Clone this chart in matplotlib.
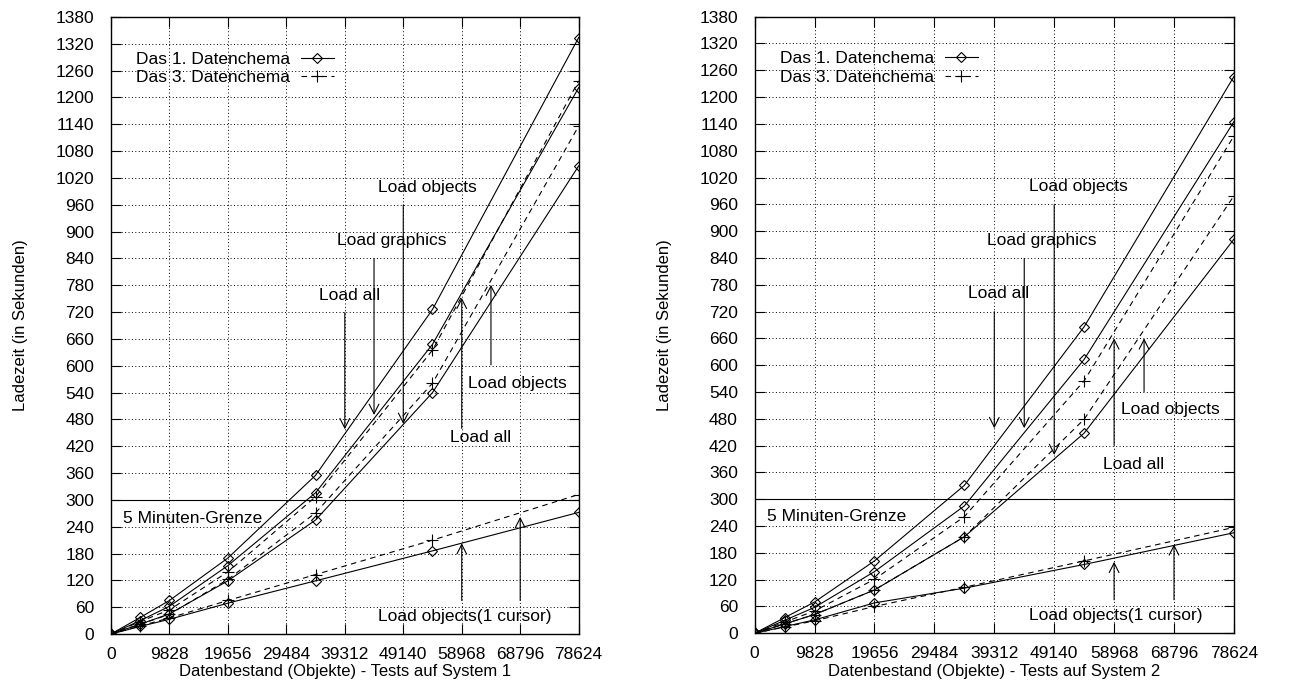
import numpy as np
import matplotlib
matplotlib.use('Agg')
from matplotlib import pyplot as plt

plt.rcParams['font.family'] = ['Liberation Sans', 'DejaVu Sans']
plt.rcParams['font.size'] = 12.5

# Datenbestand (Objekte)
x = [0, 4914, 9828, 19656, 34398, 54054, 78624]
x_ticks = [0, 9828, 19656, 29484, 39312, 49140, 58968, 68796, 78624]
y_ticks = list(range(0, 1381, 60))

# System 1 - Das 1. Datenchema (solid, diamonds)
s1_all_1 = [0, 37, 75, 170, 355, 726, 1334]
s1_graphics_1 = [0, 30, 62, 153, 316, 648, 1222]
s1_objects_1 = [0, 22, 45, 119, 255, 540, 1047]
s1_cursor_1 = [0, 17, 33, 69, 119, 186, 272]
# System 1 - Das 3. Datenchema (dashed, plus)
s3_all_1 = [0, 28, 54, 139, 307, 635, 1237]
s3_objects_1 = [0, 22, 44, 122, 271, 561, 1136]
s3_cursor_1 = [0, 18, 36, 75, 133, 210, 312]

# System 2
s1_all_2 = [0, 35, 70, 162, 331, 686, 1246]
s1_graphics_2 = [0, 29, 58, 138, 285, 613, 1145]
s1_objects_2 = [0, 21, 42, 97, 216, 448, 882]
s1_cursor_2 = [0, 15, 30, 68, 101, 154, 225]
s3_all_2 = [0, 25, 50, 121, 261, 565, 1113]
s3_objects_2 = [0, 21, 42, 97, 216, 479, 979]
s3_cursor_2 = [0, 14, 28, 60, 103, 162, 237]

fig = plt.figure(figsize=(12.96, 6.8), dpi=100)
ax1 = fig.add_axes([0.0856, 0.0676, 0.3609, 0.9074])
ax2 = fig.add_axes([0.5823, 0.0687, 0.3698, 0.9068])

solid = dict(color='black', lw=0.8, ls='-', marker='D', ms=5.3, mfc='none', mew=0.8)
dashed = dict(color='black', lw=0.8, ls=(0, (5, 4)), marker='+', ms=8, mew=0.8)

arrow = dict(arrowstyle='->,head_length=0.55,head_width=0.28', color='black', lw=0.8,
             shrinkA=0, shrinkB=0)


def arr(ax, xx, y0, y1):
    ax.annotate('', xy=(xx, y1), xytext=(xx, y0), arrowprops=arrow)


def setup(ax, xlabel):
    ax.set_xlim(0, 78624)
    ax.set_ylim(0, 1380)
    ax.set_xticks(x_ticks)
    ax.set_yticks(y_ticks)
    ax.grid(True, ls=(0, (1, 2.5)), color='black', lw=0.7)
    ax.tick_params(direction='in', length=7, width=0.8, top=True, right=True)
    ax.tick_params(axis='x', pad=9)
    ax.tick_params(axis='y', pad=12)
    ax.set_xlabel(xlabel, labelpad=2, fontsize=12)
    ax.set_ylabel('Ladezeit (in Sekunden)', labelpad=20, fontsize=12)
    for s in ax.spines.values():
        s.set_linewidth(1.0)
    ax.axhline(300, color='black', lw=0.8)
    ax.legend(loc='upper left', bbox_to_anchor=(0.035, 0.958), frameon=False,
              markerfirst=False, handlelength=1.9, labelspacing=0.2,
              borderpad=0, handletextpad=0.6, numpoints=1)


# --- System 1 ---
ax1.plot(x, s1_all_1, label='Das 1. Datenchema', **solid)
ax1.plot(x, s3_all_1, label='Das 3. Datenchema', **dashed)
ax1.plot(x, s1_graphics_1, **solid)
ax1.plot(x, s1_objects_1, **solid)
ax1.plot(x, s3_objects_1, **dashed)
ax1.plot(x, s1_cursor_1, **solid)
ax1.plot(x, s3_cursor_1, **dashed)
setup(ax1, 'Datenbestand (Objekte) - Tests auf System 1')

ax1.text(2068, 259, '5 Minuten-Grenze', va='center')
ax1.text(44885, 999, 'Load objects', va='center')
ax1.text(38045, 881, 'Load graphics', va='center')
ax1.text(35020, 758, 'Load all', va='center')
ax1.text(60015, 561, 'Load objects', va='center')
ax1.text(56990, 439, 'Load all', va='center')
ax1.text(44935, 40, 'Load objects(1 cursor)', va='center')
arr(ax1, 49140, 960, 470)
arr(ax1, 44226, 840, 490)
arr(ax1, 39312, 719, 458)
arr(ax1, 58968, 460, 752)
arr(ax1, 63882, 602, 781)
arr(ax1, 58968, 75, 203)
arr(ax1, 68796, 75, 262)

# --- System 2 ---
ax2.plot(x, s1_all_2, label='Das 1. Datenchema', **solid)
ax2.plot(x, s3_all_2, label='Das 3. Datenchema', **dashed)
ax2.plot(x, s1_graphics_2, **solid)
ax2.plot(x, s1_objects_2, **solid)
ax2.plot(x, s3_objects_2, **dashed)
ax2.plot(x, s1_cursor_2, **solid)
ax2.plot(x, s3_cursor_2, **dashed)
setup(ax2, 'Datenbestand (Objekte) - Tests auf System 2')

ax2.text(1968, 261, '5 Minuten-Grenze', va='center')
ax2.text(45045, 1000, 'Load objects', va='center')
ax2.text(38057, 880, 'Load graphics', va='center')
ax2.text(35040, 761, 'Load all', va='center')
ax2.text(60038, 500, 'Load objects', va='center')
ax2.text(57085, 378, 'Load all', va='center')
ax2.text(45045, 39, 'Load objects(1 cursor)', va='center')
arr(ax2, 49140, 959, 399)
arr(ax2, 44226, 839, 459)
arr(ax2, 39312, 720, 459)
arr(ax2, 58968, 421, 660)
arr(ax2, 63882, 541, 660)
arr(ax2, 58968, 75, 160)
arr(ax2, 68796, 75, 199)

fig.savefig('out.png', dpi=100)
